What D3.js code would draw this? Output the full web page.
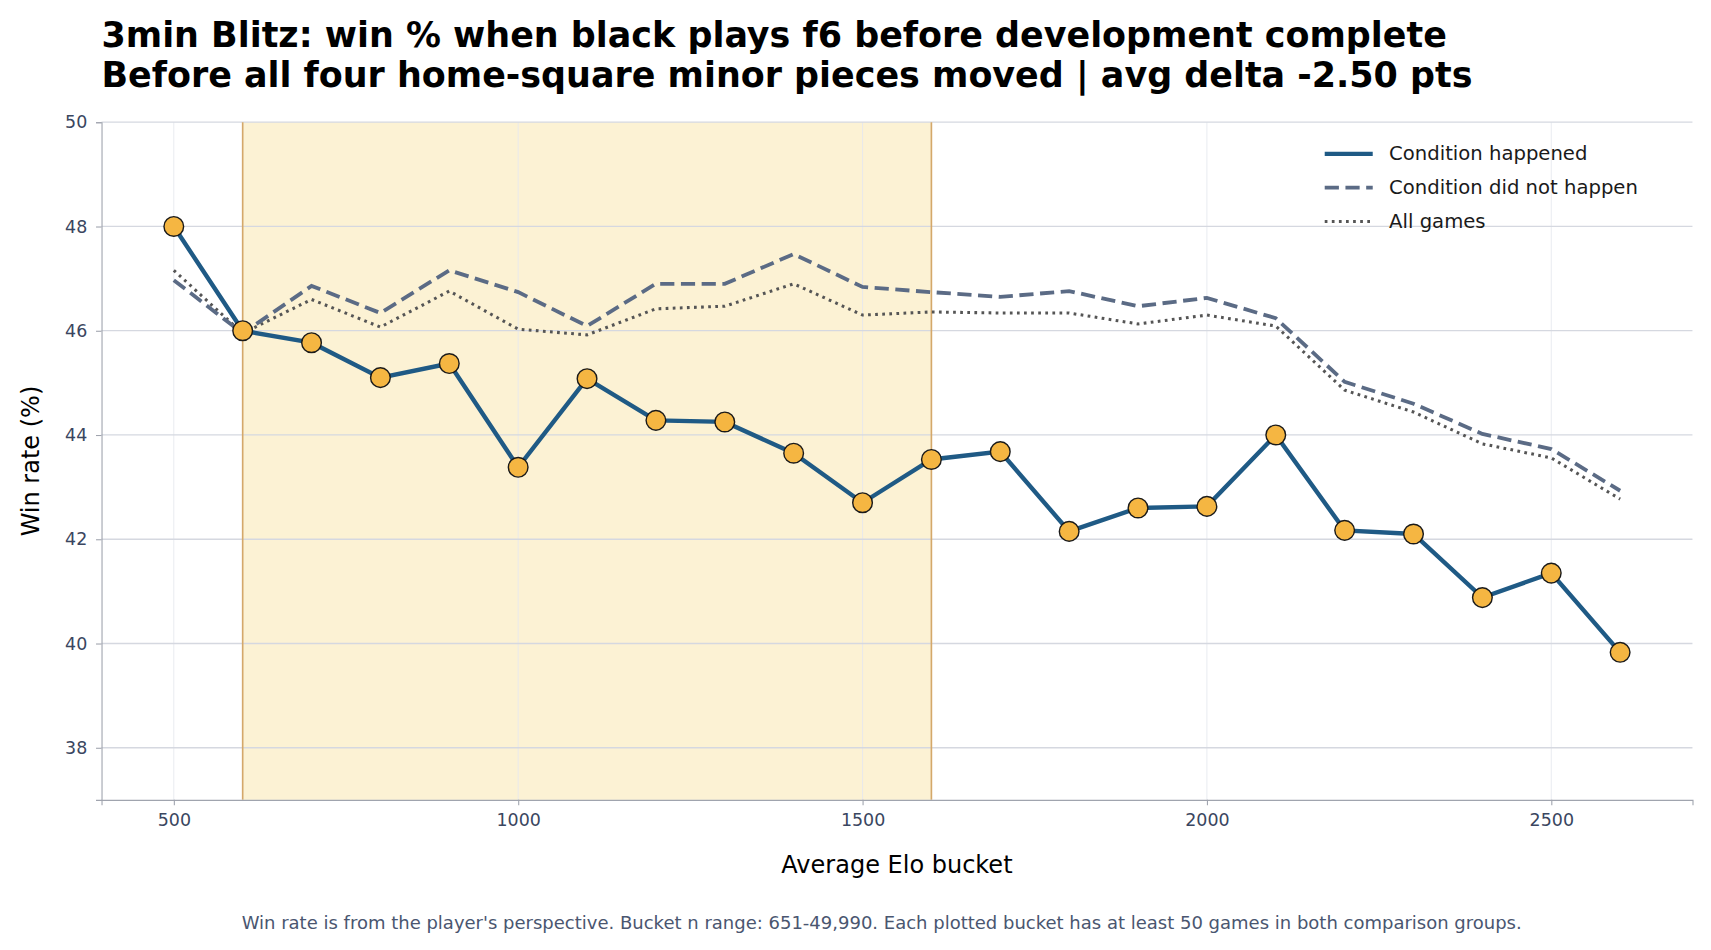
<!DOCTYPE html><html><head><meta charset="utf-8">
<script src="https://cdn.jsdelivr.net/npm/d3@7"></script>
<style>body{margin:0;background:#fff;font-family:"DejaVu Sans",sans-serif}</style></head><body>
<svg id="c" width="1711" height="950"></svg>
<script>
const elo=[500,600,700,800,900,1000,1100,1200,1300,1400,1500,1600,1700,1800,1900,2000,2100,2200,2300,2400,2500,2600];
const happened=[48.0,46.0,45.77,45.1,45.37,43.38,45.08,44.28,44.25,43.65,42.7,43.53,43.68,42.15,42.6,42.63,44.0,42.17,42.1,40.88,41.35,39.83];
const notHappened=[46.97,45.95,46.86,46.34,47.16,46.74,46.09,46.9,46.9,47.47,46.84,46.74,46.65,46.76,46.47,46.63,46.24,45.02,44.6,44.02,43.73,42.93];
const allGames=[47.16,45.95,46.6,46.07,46.76,46.03,45.92,46.42,46.47,46.9,46.3,46.36,46.34,46.34,46.13,46.3,46.09,44.86,44.44,43.83,43.56,42.77];
const xTicks=[500,1000,1500,2000,2500];
const yTicks=[38,40,42,44,46,48,50];
const band=[600,1600];
const svg=d3.select("#c").append("g").attr("transform","scale(1.0912)");
const L=93,R=1551,T=112,B=733;
const x=d3.scaleLinear().domain([395,2705]).range([L,R]);
const y=d3.scaleLinear().domain([37,50]).range([B,T]);
svg.append("rect").attr("x",x(band[0])).attr("y",T).attr("width",x(band[1])-x(band[0])).attr("height",B-T).attr("fill","#fcf2d4");
svg.append("g").selectAll("line").data(xTicks).join("line").attr("x1",d=>x(d)).attr("x2",d=>x(d)).attr("y1",T).attr("y2",B).attr("stroke","#e6e8ee").attr("stroke-width",0.8);
svg.append("g").selectAll("line").data(yTicks).join("line").attr("x1",L).attr("x2",R).attr("y1",d=>y(d)).attr("y2",d=>y(d)).attr("stroke","#d5d8e0").attr("stroke-width",1.2);
band.forEach(b=>svg.append("line").attr("x1",x(b)).attr("x2",x(b)).attr("y1",T).attr("y2",B).attr("stroke","#d4a86a").attr("stroke-width",1.5));
const ax=svg.append("g").attr("transform",`translate(0,${B})`).call(d3.axisBottom(x).tickValues(xTicks).tickFormat(d3.format("d")).tickSize(5).tickPadding(8));
const ay=svg.append("g").attr("transform",`translate(${L},0)`).call(d3.axisLeft(y).tickValues(yTicks).tickSize(5).tickPadding(8));
[ax,ay].forEach(a=>{a.selectAll("path,line").attr("stroke","#a0a4ae");a.selectAll("text").attr("font-size",16).attr("fill","#3a4660").attr("font-family","DejaVu Sans");});
const line=d3.line().x((d,i)=>x(elo[i])).y(d=>y(d));
svg.append("path").attr("d",line(allGames)).attr("fill","none").attr("stroke","#555").attr("stroke-width",2.8).attr("stroke-dasharray","2.5,4");
svg.append("path").attr("d",line(notHappened)).attr("fill","none").attr("stroke","#5b6b85").attr("stroke-width",3.5).attr("stroke-dasharray","13,6");
svg.append("path").attr("d",line(happened)).attr("fill","none").attr("stroke","#1f5a85").attr("stroke-width",4);
svg.append("g").selectAll("circle").data(happened).join("circle").attr("cx",(d,i)=>x(elo[i])).attr("cy",d=>y(d)).attr("r",9).attr("fill","#f5b642").attr("stroke","#1a1a1a").attr("stroke-width",1.3);
const lg=[["Condition happened","#1f5a85",4,null],["Condition did not happen","#5b6b85",3.5,"13,6"],["All games","#555",2.8,"2.5,4"]];
lg.forEach((d,i)=>{const yy=141+i*31;
 svg.append("line").attr("x1",1214).attr("x2",1258).attr("y1",yy).attr("y2",yy).attr("stroke",d[1]).attr("stroke-width",d[2]).attr("stroke-dasharray",d[3]);
 svg.append("text").attr("x",1273).attr("y",yy+6).attr("font-size",18).attr("fill","#1a1a1a").text(d[0]);});
svg.append("text").attr("x",93).attr("y",43).attr("font-size",32).attr("font-weight","bold").text("3min Blitz: win % when black plays f6 before development complete");
svg.append("text").attr("x",93).attr("y",80).attr("font-size",32).attr("font-weight","bold").text("Before all four home-square minor pieces moved | avg delta -2.50 pts");
svg.append("text").attr("x",(L+R)/2).attr("y",800).attr("text-anchor","middle").attr("font-size",22).text("Average Elo bucket");
svg.append("text").attr("transform",`translate(36,${(T+B)/2}) rotate(-90)`).attr("text-anchor","middle").attr("font-size",22).text("Win rate (%)");
svg.append("text").attr("x",808).attr("y",851).attr("text-anchor","middle").attr("font-size",16.5).attr("fill","#4a5670").text("Win rate is from the player's perspective. Bucket n range: 651-49,990. Each plotted bucket has at least 50 games in both comparison groups.");
</script></body></html>
